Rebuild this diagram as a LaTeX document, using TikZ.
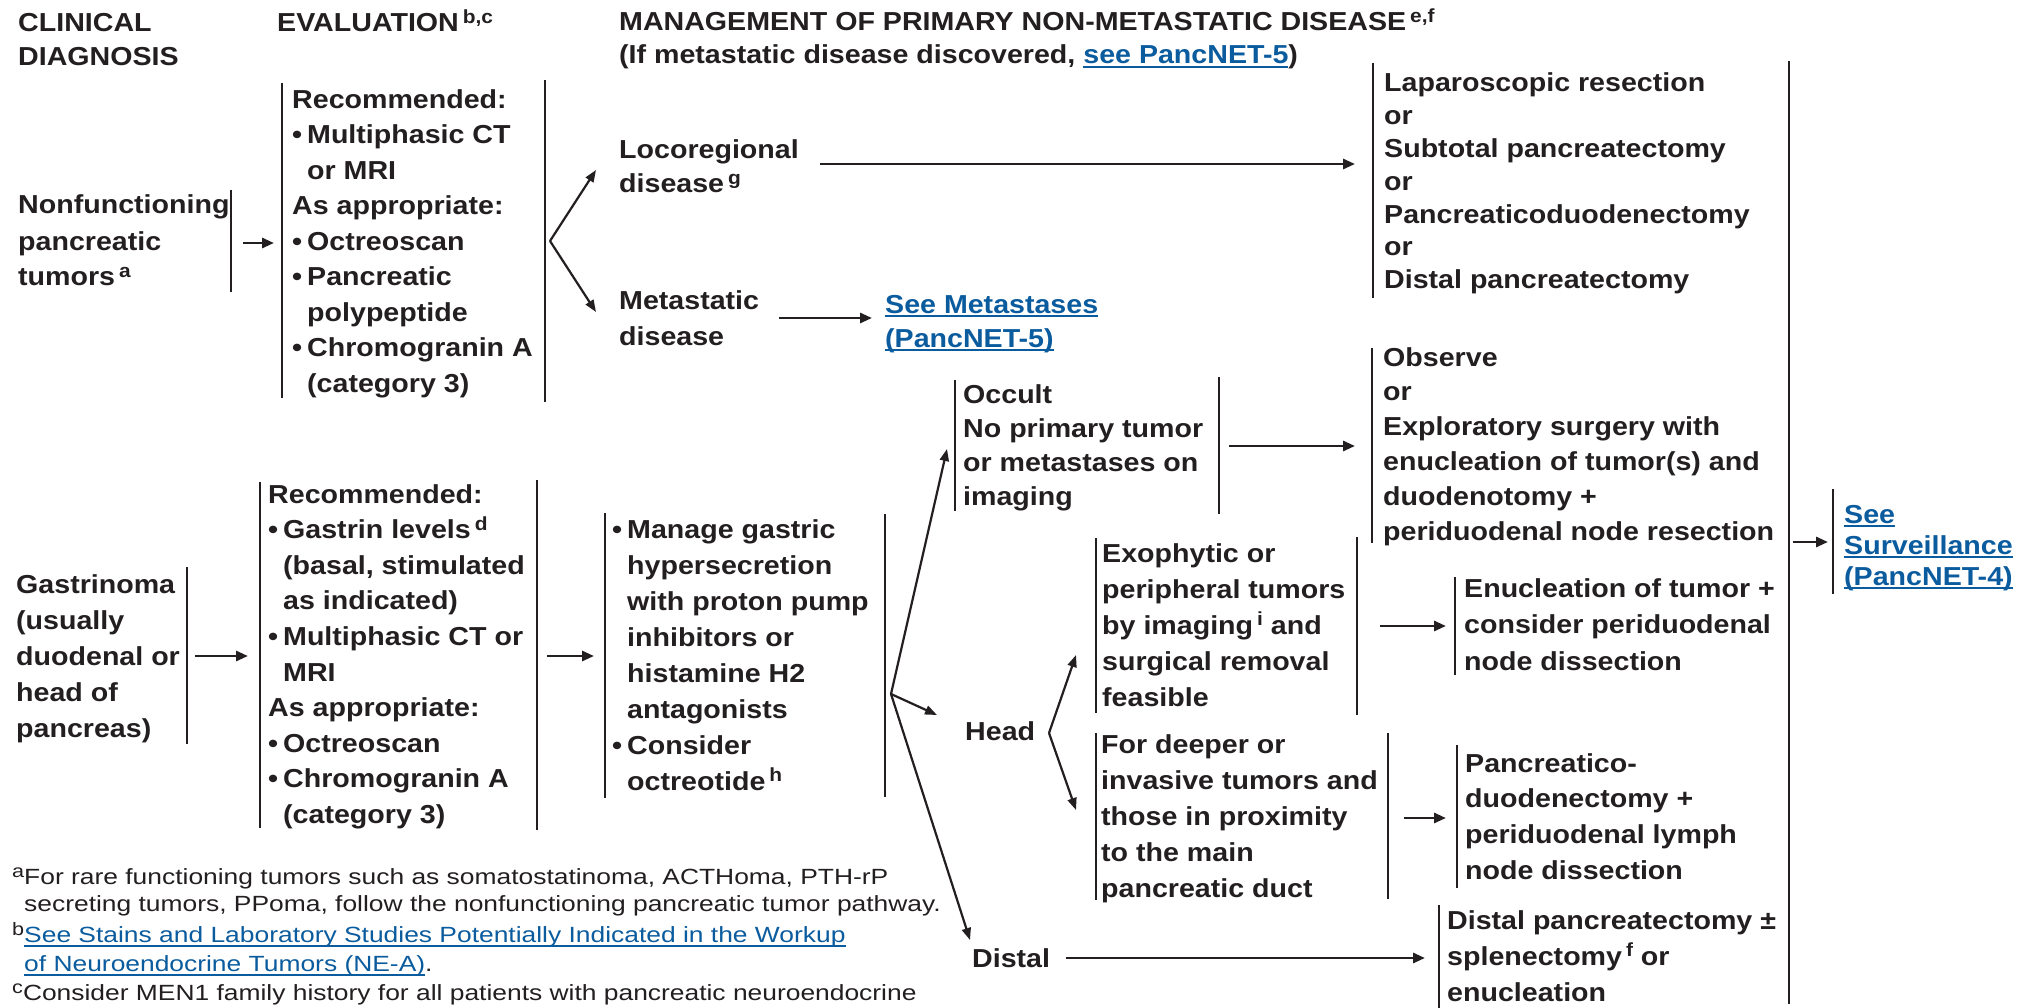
\documentclass[tikz,border=0pt]{standalone}
\usepackage{fontspec}
\setmainfont{Liberation Sans}[FakeStretch=1.1]
\newfontfamily\fnfamily{Liberation Sans}[FakeStretch=1.2]
\usetikzlibrary{arrows.meta}
\definecolor{ink}{HTML}{231F20}
\definecolor{linkblue}{HTML}{0B5C9E}
\newsavebox\lnkbox
% underlined link text (bold body and footnote variants)
\newcommand\lnk[1]{{\color{linkblue}\sbox\lnkbox{#1}\rlap{\rule[-4pt]{\wd\lnkbox}{2pt}}\usebox\lnkbox}}
\newcommand\lnkf[1]{{\color{linkblue}\sbox\lnkbox{#1}\rlap{\rule[-4.5pt]{\wd\lnkbox}{1.8pt}}\usebox\lnkbox}}
% footnote markers
\newcommand\supx[1]{\kern4pt\raisebox{8.5pt}{\fontsize{19}{19}\selectfont #1}}
\newcommand\supf[1]{\raisebox{6.5pt}{\fontsize{18}{18}\selectfont #1}}
\newcommand\bul{\textbullet\kern5pt}
\newcommand\ind{\hphantom{\bul}}
\newcommand\bt[1]{\fontsize{26}{#1}\selectfont\bfseries}
\tikzset{
  lbl/.style={inner sep=0pt, anchor=base west, align=left, text=ink},
  % multi-line bold text: #1 = line pitch, #2 = number of lines;
  % the node is placed by the baseline of its first line
  ml/.style 2 args={lbl, font={\bt{#1}}, yshift={-(#2-1)*(#1)}},
  bar/.style={draw=ink, line width=2pt},
  arr/.style={draw=ink, line width=2.8pt, -{Triangle[length=12pt,width=10pt]}},
  fan/.style={draw=ink, line width=2.2pt, -{Triangle[length=12pt,width=9pt]}},
  fnote/.style 2 args={lbl, font=\fnfamily\fontsize{22}{#1}\selectfont, yshift={-(#2-1)*(#1)}},
}
\begin{document}
\begin{tikzpicture}[x=1pt,y=-1pt]
\fill[white] (0,0) rectangle (2026,1008);
\useasboundingbox (0,0) rectangle (2026,1008);

% ---- column headers
\node[ml={34}{2}] (hdx) at (18,32) {CLINICAL\\DIAGNOSIS};
\node[ml={34}{1}] (hev) at (277,32) {EVALUATION\supx{b,c}};
\node[ml={33}{2}] (hmg) at (619,31) {MANAGEMENT OF PRIMARY NON-METASTATIC DISEASE\supx{e,f}\\(If metastatic disease discovered, \lnk{see PancNET-5})};

% ---- nonfunctioning tumors
\node[ml={36}{3}] (nf) at (18,214) {Nonfunctioning\\pancreatic\\tumors\supx{a}};
\draw[bar] (231,190) -- (231,292);
\coordinate (nfOut) at (243,243); \coordinate (ev1In) at (274,243);
\draw[arr] (nfOut) -- (ev1In);

\draw[bar] (282,83) -- (282,398);
\draw[bar] (545,80) -- (545,402);
\node[ml={35.5}{9}] (ev1) at (292,108) {Recommended:\\\bul Multiphasic CT\\\ind or MRI\\As appropriate:\\\bul Octreoscan\\\bul Pancreatic\\\ind polypeptide\\\bul Chromogranin A\\\ind (category 3)};

\coordinate (ev1Out) at (550,241);
\coordinate (locoIn) at (596,170);
\coordinate (metaIn) at (596,312);
\draw[fan] (ev1Out) -- (locoIn);
\draw[fan] (ev1Out) -- (metaIn);

\node[ml={34}{2}] (loco) at (619,159) {Locoregional\\disease\supx{g}};
\node[ml={36}{2}] (meta) at (619,309) {Metastatic\\disease};
\coordinate (locoOut) at (820,164); \coordinate (lapIn) at (1355,164);
\draw[arr] (locoOut) -- (lapIn);
\coordinate (metaOut) at (779,318); \coordinate (smIn) at (872,318);
\draw[arr] (metaOut) -- (smIn);
\node[ml={34}{2}] (seemeta) at (885,313) {\lnk{See Metastases}\\\lnk{(PancNET-5)}};

\draw[bar] (1373,63) -- (1373,298);
\node[ml={32.8}{7}] (lap) at (1384,92) {Laparoscopic resection\\or\\Subtotal pancreatectomy\\or\\Pancreaticoduodenectomy\\or\\Distal pancreatectomy};

% right edge shared by all surgical options
\draw[bar] (1789,61) -- (1789,1004);

% ---- gastrinoma
\node[ml={36}{5}] (gas) at (16,593) {Gastrinoma\\(usually\\duodenal or\\head of\\pancreas)};
\draw[bar] (187,567) -- (187,744);
\coordinate (gasOut) at (195,656); \coordinate (ev2In) at (248,656);
\draw[arr] (gasOut) -- (ev2In);

\draw[bar] (260,482) -- (260,828);
\draw[bar] (537,480) -- (537,830);
\node[ml={35.6}{10}] (ev2) at (268,503) {Recommended:\\\bul Gastrin levels\supx{d}\\\ind (basal, stimulated\\\ind as indicated)\\\bul Multiphasic CT or\\\ind MRI\\As appropriate:\\\bul Octreoscan\\\bul Chromogranin A\\\ind (category 3)};
\coordinate (ev2Out) at (547,656); \coordinate (mgIn) at (594,656);
\draw[arr] (ev2Out) -- (mgIn);

\draw[bar] (605,513) -- (605,798);
\draw[bar] (885,514) -- (885,797);
\node[ml={36}{8}] (mg) at (612,538) {\bul Manage gastric\\\ind hypersecretion\\\ind with proton pump\\\ind inhibitors or\\\ind histamine H2\\\ind antagonists\\\bul Consider\\\ind octreotide\supx{h}};

\coordinate (mgOut) at (891,694);
\coordinate (occIn) at (947,449);
\coordinate (headIn) at (937,715);
\coordinate (distIn) at (970,940);
\draw[fan] (mgOut) -- (occIn);
\draw[fan] (mgOut) -- (headIn);
\draw[fan] (mgOut) -- (distIn);

% occult
\draw[bar] (955,380) -- (955,511);
\draw[bar] (1219,377) -- (1219,514);
\node[ml={34}{4}] (occ) at (963,403) {Occult\\No primary tumor\\or metastases on\\imaging};
\coordinate (occOut) at (1229,446); \coordinate (obsIn) at (1355,446);
\draw[arr] (occOut) -- (obsIn);
\draw[bar] (1372,348) -- (1372,543);
\node[ml={34.8}{6}] (obs) at (1383,366) {Observe\\or\\Exploratory surgery with\\enucleation of tumor(s) and\\duodenotomy +\\periduodenal node resection};

% surveillance
\coordinate (survOut) at (1793,542); \coordinate (survIn) at (1828,542);
\draw[arr] (survOut) -- (survIn);
\draw[bar] (1833,489) -- (1833,594);
\node[ml={31}{3}] (surv) at (1844,523) {\lnk{See}\\\lnk{Surveillance}\\\lnk{(PancNET-4)}};

% head
\node[ml={34}{1}] (head) at (965,740) {Head};
\coordinate (headOut) at (1049,733);
\coordinate (exoIn) at (1076,655);
\coordinate (deepIn) at (1076,810);
\draw[fan] (headOut) -- (exoIn);
\draw[fan] (headOut) -- (deepIn);

\draw[bar] (1096,538) -- (1096,713);
\draw[bar] (1357,537) -- (1357,715);
\node[ml={36.2}{5}] (exo) at (1102,562) {Exophytic or\\peripheral tumors\\by imaging\supx{i} and\\surgical removal\\feasible};
\coordinate (exoOut) at (1380,626); \coordinate (enuIn) at (1446,626);
\draw[arr] (exoOut) -- (enuIn);
\draw[bar] (1455,577) -- (1455,675);
\node[ml={36.5}{3}] (enu) at (1464,597) {Enucleation of tumor +\\consider periduodenal\\node dissection};

\draw[bar] (1096,733) -- (1096,900);
\draw[bar] (1388,733) -- (1388,899);
\node[ml={36}{5}] (deep) at (1101,753) {For deeper or\\invasive tumors and\\those in proximity\\to the main\\pancreatic duct};
\coordinate (deepOut) at (1404,818); \coordinate (pdIn) at (1446,818);
\draw[arr] (deepOut) -- (pdIn);
\draw[bar] (1457,745) -- (1457,888);
\node[ml={35.7}{4}] (pd) at (1465,772) {Pancreatico-\\duodenectomy +\\periduodenal lymph\\node dissection};

% distal
\node[ml={34}{1}] (dist) at (972,967) {Distal};
\coordinate (distOut) at (1066,958); \coordinate (dpIn) at (1425,958);
\draw[arr] (distOut) -- (dpIn);
\draw[bar] (1439,905) -- (1439,1008);
\node[ml={36}{3}] (dp) at (1447,929) {Distal pancreatectomy ±\\splenectomy\supx{f} or\\enucleation};

% ---- footnotes
\node[fnote={27}{2}] (fna) at (12,884) {\supf{a}For rare functioning tumors such as somatostatinoma, ACTHoma, PTH-rP\\\hphantom{\supf{a}}secreting tumors, PPoma, follow the nonfunctioning pancreatic tumor pathway.};
\node[fnote={29}{2}] (fnb) at (12,942) {\supf{b}\lnkf{See Stains and Laboratory Studies Potentially Indicated in the Workup}\\\hphantom{\supf{b}}\lnkf{of Neuroendocrine Tumors (NE-A)}.};
\node[fnote={29}{1}] (fnc) at (12,1000) {\supf{c}Consider MEN1 family history for all patients with pancreatic neuroendocrine};
\end{tikzpicture}
\end{document}
